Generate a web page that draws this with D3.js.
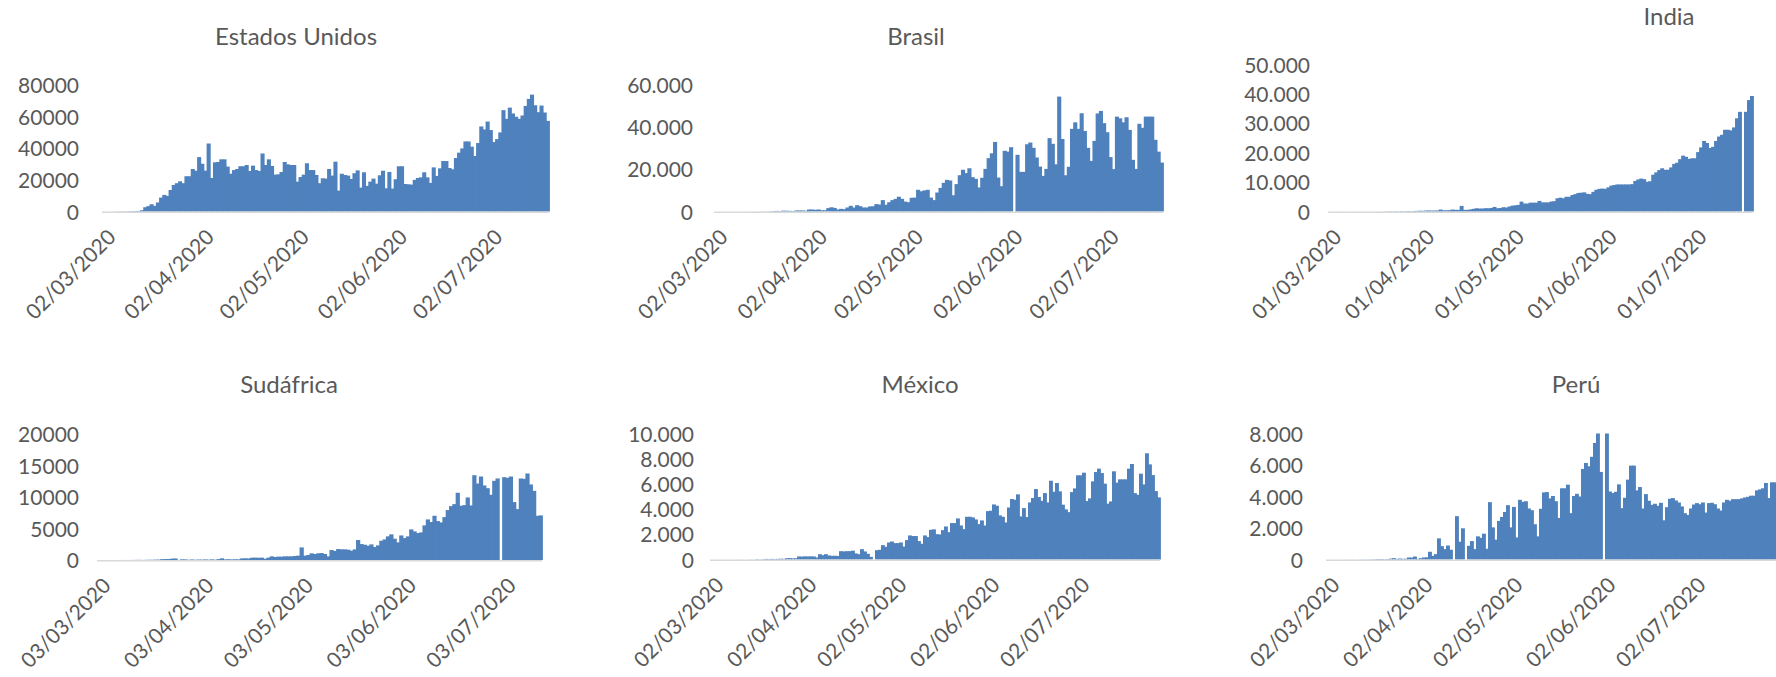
<!DOCTYPE html>
<html>
<head>
<meta charset="utf-8">
<script src="https://cdn.jsdelivr.net/npm/d3@7/dist/d3.min.js"></script>
<style>
  html, body { margin: 0; padding: 0; background: #ffffff; }
  svg { display: block; }
  text { font-family: Lato, "Open Sans", sans-serif; fill: #595959; }
</style>
</head>
<body>
<svg id="chart" width="1776" height="677"></svg>
<script>
// ---------------- DATA (daily new cases) ----------------
const countries = ["Estados Unidos", "Brasil", "India", "Sudáfrica", "México", "Perú"];
const startDates = ["2020-03-02", "2020-03-02", "2020-03-01", "2020-03-03", "2020-03-02", "2020-03-02"];

const usCases = [20,14,22,34,74,105,95,121,200,271,287,351,
800,2700,3400,4600,3600,5700,8800,10500,9900,13600,
16800,17900,19100,17900,22300,22300,26900,25800,34400,30200,
25800,43000,21200,31100,31300,33000,33000,28400,23900,26200,
26900,28600,28600,29400,25600,29000,26200,25600,36700,29400,
33000,28800,23300,23500,25000,31300,29800,29400,29400,18900,
21800,23300,30500,26200,26200,23100,17900,21000,20800,26900,
22700,31500,13200,23900,23100,22700,20600,24200,26000,15100,
24800,16200,18900,20800,17600,22900,25800,14700,25000,14500,
20400,28600,28600,17400,17200,17000,20000,21200,21600,24800,
21600,18100,27900,22500,27300,31900,31900,27500,26700,33800,
37200,39900,44300,44300,41000,35100,43300,53800,51900,56900,
51500,43900,45800,50000,64100,58600,65700,62000,59900,58600,
60700,66800,71200,73900,67200,62800,67000,62600,57300];

const brasilCases = [0,0,0,1,4,6,6,0,5,9,18,25,21,23,79,34,57,137,193,283,224,418,345,310,232,482,502,487,352,
950,950,800,950,600,600,1600,2000,1700,950,
1260,1100,1900,2700,1900,3000,2500,1900,1900,2400,
2500,3500,3300,5400,3200,4400,5400,6000,7000,6000,
4700,4400,6500,6600,10300,9600,10000,10300,6600,5400,
9000,11200,13600,15000,14700,7700,13000,17200,19800,18200,
20500,16300,15500,11400,16000,20200,25300,27600,33000,16100,
12000,28800,28400,30500,0,26900,18800,18800,31900,32700,
30200,25600,21300,16900,20200,34800,32100,22400,54500,34400,
17200,21200,39200,42300,39200,46600,38200,30200,24000,33500,
46500,47700,41900,37600,25800,20100,45000,44200,42300,44700,
38700,24500,20200,41600,39700,45000,45000,45000,34000,28400,
23200];

const indiaCases = [0,0,1,22,2,1,3,5,4,13,6,11,9,20,11,6,23,14,38,50,86,66,103,37,121,70,160,100,
150,200,250,230,300,350,300,320,350,
670,400,420,450,670,560,560,1900,560,560,
700,900,1100,1000,1000,1100,1100,1200,1550,1100,
1200,1450,1350,1700,2000,2100,2240,3360,2700,2700,
3000,3000,3000,3600,3100,3100,3100,3400,3500,4500,
4700,4500,5000,5000,5600,5900,6300,6400,6500,6000,
5900,6700,7400,7700,7800,7700,8200,8800,9000,9200,
9200,9200,9200,9200,9300,10400,10900,11200,11000,10100,
10300,12500,13300,14100,14700,14200,14200,15000,16200,16600,
17800,19000,18600,17900,18100,18100,20200,21800,24000,23300,
21600,22000,24000,25500,26100,27800,27800,27600,28600,31700,
33900,0,33900,37900,39300];

const sudafricaCases = [0,0,1,0,1,0,3,6,3,4,7,14,24,11,20,34,32,54,66,128,148,153,218,243,17,102,93,34,82,40,69,54,89,52,96,47,139,
260,100,120,90,110,100,250,270,240,360,380,350,
370,210,370,580,480,530,530,580,580,580,
630,690,2000,690,790,1060,950,1060,1100,950,
580,1580,1430,1740,1690,1690,1640,1480,1690,3170,
2530,2430,2270,2480,2060,2320,3060,3270,3750,4070,
3380,2800,3900,3480,3750,4860,4540,4280,4380,5490,
6440,6020,7020,6180,5970,6810,7920,8550,8870,10670,
8610,8710,9930,8660,13460,12140,13250,11830,11400,10350,
12570,12940,0,13150,13040,13250,9190,8080,12940,12880,
13730,11990,10980,7020,7080];

const mexicoCases = [0,1,0,0,0,0,2,0,0,3,4,0,0,12,0,29,11,25,46,39,48,35,
50,60,50,100,110,90,100,240,230,250,240,250,240,160,420,340,420,320,290,300,280,660,640,660,660,700,480,420,820,640,450,210,
0,
740,770,1140,1010,1350,1430,1300,1300,1350,1030,
1540,1910,1860,1860,1460,1250,1910,1780,2360,2390,
2010,1990,2330,2620,2170,2890,2890,3260,2700,2410,
3390,3390,3340,3180,2810,3100,2700,3840,3870,4370,
4270,3500,3390,2940,4130,4800,4740,5170,3420,4080,
3370,4530,4880,5590,4960,4660,5270,4530,6250,5380,
6070,5410,4350,3980,3760,5350,5640,6680,6680,6890,
4640,4850,6200,6940,7210,6860,6020,4430,4610,7000,
6100,6360,6360,6360,7210,7580,5270,5140,6810,5960,
8430,7550,6700,5430,4930];

const peruCases = [0,0,0,0,0,1,5,1,3,0,2,9,6,10,11,15,22,31,28,24,29,55,
85,40,60,40,50,130,120,190,40,85,130,140,490,230,340,1340,850,660,890,620,0,
2750,1130,1980,0,870,1170,660,1470,1380,1640,
680,3640,2040,1260,2450,2700,3020,3450,2040,3340,
1400,3790,3660,3700,3240,3130,2240,1470,3220,4260,
4280,3880,4030,3700,2640,4520,4520,4750,2940,4030,
4170,4000,5750,6130,5920,6520,7400,8000,5560,0,
8000,4320,4220,4300,4770,3260,3920,5070,5960,5960,
4390,4600,3240,4150,3730,3470,3540,3410,3600,2490,
3320,3860,3900,3750,3620,3370,2940,2830,3240,3490,
3580,3510,3620,2980,3580,3600,3510,3240,3110,3620,
3790,3730,3830,3830,3830,3880,3940,3980,4050,4050,
4390,4450,4520,4860,3900,4900,4900];

const seriesValues = [usCases, brasilCases, indiaCases, sudafricaCases, mexicoCases, peruCases];

// y-axis tick labels (values) per panel
const usTicks = [0, 20000, 40000, 60000, 80000];
const brasilTicks = [0, 20000, 40000, 60000];
const indiaTicks = [0, 10000, 20000, 30000, 40000, 50000];
const sudafricaTicks = [0, 5000, 10000, 15000, 20000];
const mexicoTicks = [0, 2000, 4000, 6000, 8000, 10000];
const peruTicks = [0, 2000, 4000, 6000, 8000];
const yTickValues = [usTicks, brasilTicks, indiaTicks, sudafricaTicks, mexicoTicks, peruTicks];
const dotThousands = [false, true, true, false, true, true];

// ---------------- LAYOUT ----------------
const layout = [
  { x0: 102, x1: 549, base: 211.5, h: 126.5, labelRight: 79,  titleX: 296,  titleY: 36 },
  { x0: 714, x1: 1163, base: 211.5, h: 126.5, labelRight: 693, titleX: 916,  titleY: 36 },
  { x0: 1328, x1: 1753, base: 211.5, h: 147, labelRight: 1310, titleX: 1669, titleY: 16 },
  { x0: 97,  x1: 542, base: 560,   h: 126,   labelRight: 79,  titleX: 289,  titleY: 384 },
  { x0: 710, x1: 1160, base: 559.5, h: 126,  labelRight: 694, titleX: 920,  titleY: 384 },
  { x0: 1326, x1: 1776, base: 559.5, h: 126, labelRight: 1303, titleX: 1576, titleY: 384 }
];
const BAR = "#4F81BD";
const AXIS_LINE = "#D9D9D9";
const TEXT = "#595959";

const svg = d3.select("#chart");
const fmtDot = d3.formatLocale({ decimal: ",", thousands: ".", grouping: [3], currency: ["", ""] }).format(",d");
const fmtPlain = d3.format("d");
const fmtDate = d3.utcFormat("%d/%m/%Y");
const parse = d3.utcParse("%Y-%m-%d");

countries.forEach((name, p) => {
  const L = layout[p];
  const values = seriesValues[p];
  const start = parse(startDates[p]);
  const n = values.length;
  const end = d3.utcDay.offset(start, n);
  const yMax = d3.max(yTickValues[p]);

  const x = d3.scaleUtc().domain([start, end]).range([L.x0, L.x1]);
  const y = d3.scaleLinear().domain([0, yMax]).range([L.base, L.base - L.h]);

  const g = svg.append("g").attr("class", "panel");

  // bars
  g.append("g").selectAll("rect").data(values).join("rect")
    .attr("x", (d, i) => x(d3.utcDay.offset(start, i)))
    .attr("width", (d, i) => x(d3.utcDay.offset(start, i + 1)) - x(d3.utcDay.offset(start, i)) + 0.9)
    .attr("y", d => y(Math.min(d, yMax)))
    .attr("height", d => L.base - y(Math.min(d, yMax)))
    .attr("fill", BAR);

  // baseline
  g.append("line")
    .attr("x1", L.x0).attr("x2", Math.min(L.x1, 1776))
    .attr("y1", L.base + 0.75).attr("y2", L.base + 0.75)
    .attr("stroke", AXIS_LINE).attr("stroke-width", 1.5);

  // y axis
  const fmt = dotThousands[p] ? fmtDot : fmtPlain;
  g.append("g")
    .attr("transform", `translate(${L.labelRight},0)`)
    .call(d3.axisLeft(y).tickValues(yTickValues[p]).tickFormat(fmt).tickSize(0).tickPadding(0))
    .call(a => a.select(".domain").remove())
    .call(a => a.selectAll("text")
      .style("font-family", "Lato, sans-serif").attr("font-size", 21).attr("fill", TEXT).attr("dy", "0.36em"));

  // x axis: monthly ticks starting at the first date, centred on the day slot
  const tickDates = [];
  for (let k = 0; ; k++) {
    const t = d3.utcMonth.offset(start, k);
    if (t >= end) break;
    tickDates.push(d3.utcHour.offset(t, 12));
  }
  g.append("g")
    .attr("transform", `translate(0,${L.base})`)
    .call(d3.axisBottom(x).tickValues(tickDates).tickFormat(fmtDate).tickSize(0).tickPadding(0))
    .call(a => a.select(".domain").remove())
    .call(a => a.selectAll("text")
      .style("font-family", "Lato, sans-serif").attr("font-size", 21).attr("fill", TEXT)
      .attr("x", 0).attr("y", 0).attr("dy", 0)
      .attr("text-anchor", "end")
      .attr("transform", "translate(13,27) rotate(-45)"));

  // title
  g.append("text")
    .attr("x", L.titleX).attr("y", L.titleY + 8.6)
    .attr("text-anchor", "middle")
    .attr("font-size", 24)
    .attr("fill", TEXT)
    .text(name);
});
</script>
</body>
</html>
